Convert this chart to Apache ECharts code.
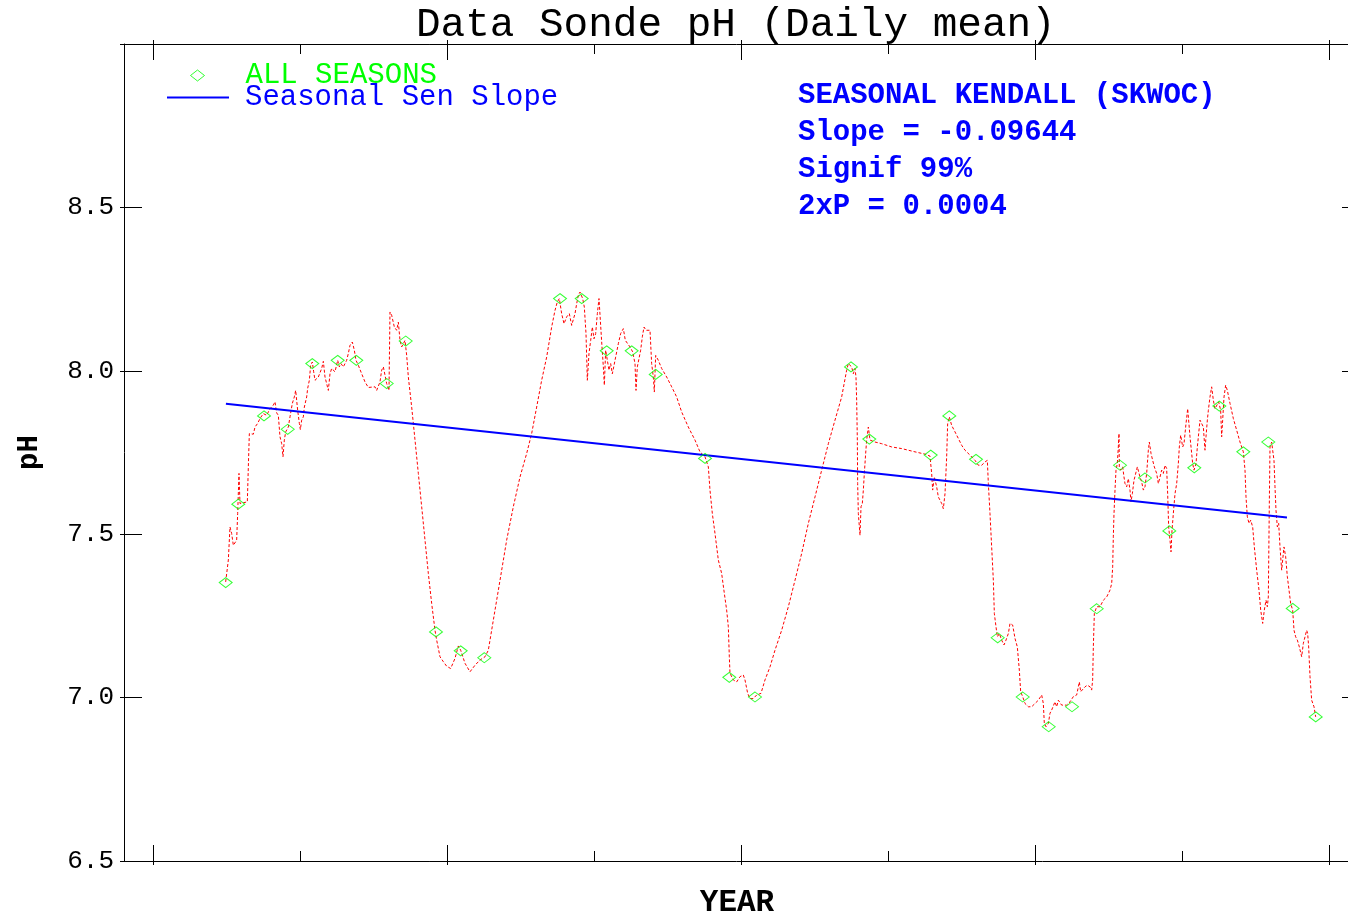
<!DOCTYPE html>
<html>
<head>
<meta charset="utf-8">
<title>Data Sonde pH (Daily mean)</title>
<script src="https://cdn.jsdelivr.net/npm/echarts@6.0.0/dist/echarts.min.js"></script>
<style>
  html, body { margin: 0; padding: 0; background: #ffffff; }
  #chart { width: 1348px; height: 917px; }
</style>
</head>
<body>
<div id="chart"></div>
<script>
// Time is in years from the first major tick; pH is the daily mean value.
const dayT = [
  0.2472,0.2563,0.2619,0.2676,0.2733,0.2789,0.2846,0.2880,0.2925,0.2959,
  0.3016,0.3209,0.3243,0.3277,0.3322,0.3413,0.3470,0.3560,0.3640,0.3753,
  0.3866,0.3980,0.4093,0.4150,0.4207,0.4263,0.4320,0.4377,0.4422,0.4467,
  0.4513,0.4603,0.4660,0.4739,0.4807,0.4853,0.4921,0.4978,0.5012,0.5057,
  0.5114,0.5148,0.5227,0.5261,0.5318,0.5363,0.5420,0.5465,0.5511,0.5624,
  0.5737,0.5794,0.5851,0.5964,0.6021,0.6077,0.6191,0.6282,0.6338,0.6395,
  0.6474,0.6587,0.6644,0.6701,0.6780,0.6848,0.6905,0.6984,0.7098,0.7211,
  0.7324,0.7551,0.7608,0.7721,0.7778,0.7835,0.7891,0.7948,0.8027,0.8061,
  0.8118,0.8209,0.8288,0.8345,0.8402,0.8458,0.8572,0.8629,0.8685,0.8799,
  0.8912,0.9025,0.9139,0.9252,0.9365,0.9479,0.9592,0.9649,0.9762,
  0.9875,0.9989,1.0125,1.0272,1.0386,1.0465,1.0612,1.0782,1.0952,1.1123,
  1.1293,1.1406,1.1576,1.1803,1.2030,1.2256,1.2483,1.2710,1.2880,1.3050,
  1.3220,1.3390,1.3560,1.3674,1.3753,1.3821,1.3900,1.3980,1.4070,1.4161,
  1.4240,1.4354,1.4410,1.4467,1.4524,1.4615,1.4671,1.4728,1.4773,1.4830,
  1.4887,1.4944,1.5000,1.5057,1.5114,1.5170,1.5227,1.5272,1.5318,1.5352,
  1.5397,1.5454,1.5510,1.5567,1.5624,1.5737,1.5828,1.5907,1.5998,1.6066,
  1.6225,1.6315,1.6395,1.6429,1.6474,1.6587,1.6644,1.6701,1.6769,1.6905,
  1.6961,1.7018,1.7052,1.7098,1.7188,1.7302,1.7472,1.7642,1.7812,
  1.7982,1.8208,1.8435,1.8605,1.8775,1.8889,1.8945,1.9025,1.9116,1.9229,
  1.9342,1.9433,1.9512,1.9569,1.9603,1.9626,1.9739,1.9853,1.9966,2.0079,
  2.0136,2.0227,2.0306,2.0419,2.0533,2.0680,2.0816,2.0986,2.1156,2.1383,
  2.1610,2.1837,2.2063,2.2290,2.2517,2.2744,2.2971,2.3197,2.3424,2.3594,
  2.3651,2.3764,2.3821,2.3877,2.3911,2.3934,2.3957,2.3968,2.3991,2.4048,
  2.4082,2.4127,2.4161,2.4195,2.4240,2.4274,2.4331,2.4388,2.4558,2.4785,
  2.5125,2.5465,2.5918,
  2.6258,2.6428,2.6485,2.6519,2.6576,2.6655,2.6712,2.6825,2.6882,2.6939,
  2.6995,2.7029,2.7086,2.7165,2.7279,2.7392,2.7506,2.7619,2.7789,2.7959,
  2.8072,2.8186,2.8299,2.8379,2.8413,2.8469,2.8526,2.8583,2.8617,2.8673,
  2.8719,2.8787,2.8866,2.8945,2.9014,2.9093,2.9150,2.9240,2.9320,2.9399,
  2.9467,2.9512,2.9580,2.9660,2.9773,2.9887,3.0000,3.0113,3.0227,3.0283,
  3.0317,3.0374,3.0454,3.0510,3.0567,3.0680,3.0737,3.0794,3.0850,3.0907,
  3.1077,3.1190,3.1304,3.1417,3.1474,3.1508,3.1553,3.1621,3.1701,3.1780,
  3.1871,3.1927,3.1961,3.1984,3.2018,3.2097,3.2211,3.2324,3.2438,3.2551,
  3.2608,3.2642,3.2664,3.2687,3.2721,3.2755,3.2800,3.2834,3.2857,
  3.2868,3.2914,3.2982,3.3027,3.3061,3.3118,3.3175,3.3231,3.3265,3.3311,
  3.3367,3.3435,3.3481,3.3515,3.3571,3.3628,3.3685,3.3741,3.3798,3.3855,
  3.3889,3.3946,3.4002,3.4059,3.4138,3.4195,3.4252,3.4308,3.4365,3.4422,
  3.4478,3.4512,3.4546,3.4592,3.4626,3.4660,3.4705,3.4762,3.4819,3.4875,
  3.4909,3.4955,3.5023,3.5068,3.5136,3.5193,3.5238,3.5272,3.5329,3.5363,
  3.5408,3.5476,3.5522,3.5567,3.5612,3.5669,3.5726,3.5782,3.5816,3.5862,
  3.5896,3.5952,3.6009,3.6066,3.6122,3.6179,3.6247,3.6315,3.6349,3.6383,
  3.6429,3.6485,3.6542,3.6633,3.6746,3.6860,3.6973,3.7086,3.7143,3.7177,
  3.7222,3.7279,3.7336,3.7404,3.7460,3.7540,3.7619,3.7676,3.7744,3.7800,
  3.7857,3.7902,3.7936,3.7970,3.7993,3.8050,3.8084,3.8129,3.8163,3.8197,
  3.8243,3.8288,3.8333,3.8390,3.8424,3.8469,3.8526,3.8583,3.8640,3.8696,
  3.8764,3.8810,3.8866,3.8923,3.8991,3.9070,3.9127,3.9184,3.9240,3.9274,
  3.9308,3.9354,3.9410,3.9490,3.9546
];

const dailyPH = [
  7.354,7.421,7.522,7.502,7.466,7.472,7.482,7.563,7.686,7.594,
  7.599,7.599,7.706,7.808,7.813,7.806,7.828,7.839,7.854,7.869,
  7.864,7.884,7.895,7.905,7.871,7.864,7.798,7.777,7.737,7.788,
  7.813,7.828,7.859,7.900,7.920,7.940,7.879,7.839,7.820,7.849,
  7.859,7.889,7.920,7.946,7.971,8.017,8.027,7.997,7.971,7.981,
  8.007,8.029,7.981,7.940,7.991,8.007,7.997,8.032,8.012,8.022,
  8.012,8.032,8.053,8.078,8.088,8.063,8.032,8.017,7.991,7.966,
  7.949,7.951,7.940,7.966,8.002,8.012,8.007,7.961,7.940,8.180,
  8.170,8.134,8.124,8.149,8.093,8.073,8.093,8.047,7.981,7.889,
  7.788,7.686,7.584,7.482,7.380,7.288,7.206,7.176,7.125,
  7.110,7.096,7.089,7.120,7.158,7.145,7.105,7.079,7.099,7.115,
  7.125,7.145,7.237,7.359,7.482,7.584,7.675,7.747,7.808,7.889,
  7.971,8.042,8.134,8.185,8.211,8.221,8.175,8.144,8.165,8.175,
  8.139,8.175,8.205,8.231,8.241,8.221,8.195,8.114,7.971,8.053,
  8.093,8.134,8.098,8.114,8.175,8.221,8.216,8.073,8.012,7.956,
  8.063,8.032,8.002,8.022,7.991,8.042,8.083,8.114,8.129,8.093,
  8.073,8.058,8.022,7.940,8.012,8.063,8.104,8.134,8.124,8.124,
  8.022,7.981,7.935,8.047,8.032,8.007,7.981,7.951,7.920,
  7.874,7.828,7.788,7.752,7.737,7.706,7.635,7.563,7.502,7.421,
  7.380,7.319,7.268,7.217,7.125,7.074,7.054,7.048,7.064,7.069,
  7.054,7.013,6.997,6.997,7.008,7.013,7.054,7.094,7.145,7.206,
  7.278,7.359,7.441,7.533,7.614,7.696,7.777,7.849,7.920,8.002,
  8.022,8.012,7.991,8.007,7.981,7.910,7.788,7.655,7.563,7.497,
  7.584,7.594,7.635,7.686,7.747,7.788,7.828,7.788,7.782,7.777,
  7.767,7.762,7.752,
  7.745,7.739,7.686,7.635,7.675,7.645,7.614,7.594,7.578,7.624,
  7.736,7.838,7.859,7.833,7.813,7.793,7.772,7.757,7.742,7.726,
  7.711,7.711,7.721,7.726,7.655,7.563,7.461,7.359,7.257,7.217,
  7.186,7.196,7.176,7.161,7.176,7.196,7.227,7.222,7.181,7.155,
  7.084,7.018,7.003,6.982,6.972,6.972,6.982,6.992,7.008,6.982,
  6.921,6.911,6.921,6.952,6.962,6.987,6.972,6.992,6.997,6.977,
  6.977,6.987,7.003,7.008,7.033,7.048,7.018,7.023,7.033,7.038,
  7.033,7.023,7.054,7.155,7.257,7.278,7.278,7.298,7.308,7.329,
  7.349,7.400,7.492,7.563,7.635,7.696,7.716,7.767,7.808,
  7.706,7.696,7.706,7.675,7.655,7.645,7.670,7.635,7.599,7.624,
  7.665,7.665,7.706,7.711,7.675,7.660,7.635,7.645,7.686,7.757,
  7.782,7.747,7.726,7.706,7.686,7.655,7.675,7.696,7.686,7.711,
  7.701,7.624,7.522,7.482,7.446,7.512,7.563,7.624,7.655,7.716,
  7.767,7.803,7.767,7.777,7.838,7.884,7.879,7.798,7.747,7.716,
  7.696,7.716,7.767,7.808,7.849,7.849,7.828,7.757,7.798,7.849,
  7.879,7.920,7.951,7.910,7.884,7.889,7.905,7.879,7.798,7.849,
  7.920,7.956,7.940,7.900,7.854,7.818,7.782,7.752,7.696,7.614,
  7.553,7.533,7.543,7.522,7.461,7.390,7.329,7.268,7.227,7.268,
  7.298,7.278,7.308,7.594,7.767,7.782,7.757,7.726,7.645,7.573,
  7.522,7.533,7.461,7.390,7.395,7.461,7.431,7.370,7.329,7.288,
  7.268,7.206,7.186,7.176,7.155,7.125,7.166,7.186,7.206,7.196,
  7.155,7.064,6.992,6.972,6.941
];

// Seasonal sample points (ALL SEASONS)
const seasonT = [
  0.2473,0.2901,0.3776,0.4582,0.5418,0.6282,0.6915,0.7949,0.8595,0.9626,
  1.0466,1.1269,1.3844,1.4582,1.5432,1.6282,1.7099,1.8776,1.9602,2.0476,
  2.3741,2.4364,2.6452,2.7085,2.7993,2.8731,2.9582,3.0466,3.1259,3.2099,
  3.2891,3.3741,3.4568,3.5418,3.6269,3.7085,3.7935,3.8765,3.9548
];
const seasonPH = [
  7.352,7.592,7.862,7.821,8.022,8.032,8.032,7.961,8.091,7.201,
  7.143,7.122,8.221,8.221,8.061,8.061,7.989,7.732,7.062,7.002,
  8.012,7.791,7.742,7.862,7.729,7.183,7.002,6.911,6.972,7.272,
  7.711,7.672,7.510,7.703,7.892,7.752,7.782,7.273,6.941
];

// Seasonal Kendall result
const senSlope = -0.09644;          // pH units per year
const senRangeT = [0.248, 3.857];   // span of the fitted line
const senMidT = 2.0525, senMidPH = 7.725;
const statLines = ['SEASONAL KENDALL (SKWOC)', 'Slope = -0.09644', 'Signif 99%', '2xP = 0.0004'];

// Axis ticks
const majorTicks = [0, 1, 2, 3, 4];
const minorTicks = [0.5, 1.5, 2.5, 3.5];
const yLabelValues = [6.5, 7.0, 7.5, 8.0, 8.5];

const X_MIN = -0.0986, X_MAX = 4.0714;
const Y_MIN = 6.5, Y_MAX = 9.0;
const MONO = "'Liberation Mono', 'DejaVu Sans Mono', monospace";

const dailySeries = dayT.map((t, i) => [t, dailyPH[i]]);
const seasonSeries = seasonT.map((t, i) => [t, seasonPH[i]]);
const senSeries = senRangeT.map(t => [t, senMidPH + senSlope * (t - senMidT)]);

function xAx(position, opts) {
  return Object.assign({
    type: 'value', position, min: X_MIN, max: X_MAX,
    axisLine: { show: false, onZero: false, lineStyle: { color: '#000', width: 1 } },
    axisLabel: { show: false },
    splitLine: { show: false }
  }, opts);
}
function yAx(position, opts) {
  return Object.assign({
    type: 'value', position, min: Y_MIN, max: Y_MAX, interval: 0.5,
    axisLine: { show: false, onZero: false, lineStyle: { color: '#000', width: 1 } },
    axisLabel: { show: false },
    splitLine: { show: false }
  }, opts);
}
const tickLine = { color: '#000', width: 1 };

const chart = echarts.init(document.getElementById('chart'), null, { renderer: 'canvas' });
chart.setOption({
  animation: false,
  backgroundColor: '#ffffff',
  title: [
    {
      text: 'Data Sonde pH (Daily mean)',
      left: 416, top: 5, padding: 0,
      textStyle: { fontFamily: MONO, fontSize: 41, fontWeight: 'normal', color: '#000' }
    },
    {
      text: statLines.join('\n'),
      left: 798, top: 77, padding: 0,
      textStyle: { fontFamily: MONO, fontSize: 29, fontWeight: 'bold', color: '#0000ff', lineHeight: 37 }
    }
  ],
  legend: [
    {
      data: [{ name: 'ALL SEASONS', icon: 'diamond' }],
      left: 190, top: 61, padding: 0, orient: 'vertical',
      itemWidth: 14, itemHeight: 11, selectedMode: false,
      itemStyle: { color: 'rgba(0,0,0,0)', borderColor: '#00ff00', borderWidth: 1 },
      textStyle: { fontFamily: MONO, fontSize: 29, color: '#00ff00', padding: [0, 0, 0, 36] }
    },
    {
      data: [{ name: 'Seasonal Sen Slope', icon: 'rect' }],
      left: 167, top: 83, padding: 0, orient: 'vertical',
      itemWidth: 62, itemHeight: 2, selectedMode: false,
      itemStyle: { color: '#0000ff', borderWidth: 0 },
      textStyle: { fontFamily: MONO, fontSize: 29, color: '#0000ff', padding: [0, 0, 0, 11] }
    }
  ],
  grid: { left: 124, right: -2, top: 44, bottom: 56, containLabel: false, outerBoundsMode: 'none' },
  xAxis: [
    xAx('bottom', {
      axisLine: { show: true, onZero: false, lineStyle: { color: '#000', width: 1 } },
      axisTick: { show: true, inside: true, length: 16, customValues: majorTicks, lineStyle: tickLine },
      name: 'YEAR', nameLocation: 'middle', nameGap: 27,
      nameTextStyle: { fontFamily: MONO, fontSize: 31, fontWeight: 'bold', color: '#000' }
    }),
    xAx('bottom', { axisTick: { show: true, inside: false, length: 4, customValues: majorTicks, lineStyle: tickLine } }),
    xAx('bottom', { axisTick: { show: true, inside: true, length: 10, customValues: minorTicks, lineStyle: tickLine } }),
    xAx('top', {
      axisLine: { show: true, onZero: false, lineStyle: { color: '#000', width: 1 } },
      axisTick: { show: true, inside: true, length: 16, customValues: majorTicks, lineStyle: tickLine }
    }),
    xAx('top', { axisTick: { show: true, inside: false, length: 4, customValues: majorTicks, lineStyle: tickLine } }),
    xAx('top', { axisTick: { show: true, inside: true, length: 10, customValues: minorTicks, lineStyle: tickLine } })
  ],
  yAxis: [
    yAx('left', {
      axisLine: { show: true, onZero: false, lineStyle: { color: '#000', width: 1 } },
      axisTick: { show: true, inside: true, length: 18, lineStyle: tickLine },
      axisLabel: {
        show: true, margin: 10, customValues: yLabelValues,
        fontFamily: MONO, fontSize: 26, color: '#000',
        formatter: v => v.toFixed(1)
      },
      name: 'pH', nameLocation: 'middle', nameRotate: 90, nameGap: 80,
      nameTextStyle: { fontFamily: MONO, fontSize: 29, fontWeight: 'bold', color: '#000' }
    }),
    yAx('left', { axisTick: { show: true, inside: false, length: 4, lineStyle: tickLine } }),
    yAx('right', {
      axisLine: { show: true, onZero: false, lineStyle: { color: '#000', width: 1 } },
      axisTick: { show: true, inside: true, length: 8, lineStyle: tickLine },
      minorTick: { show: true, splitNumber: 2, length: 2, lineStyle: tickLine }
    })
  ],
  series: [
    {
      name: 'Daily mean', type: 'line', xAxisIndex: 0, yAxisIndex: 0,
      data: dailySeries, symbol: 'none', showSymbol: false, z: 2,
      lineStyle: { color: '#ff0000', width: 1, type: [3, 2] }
    },
    {
      name: 'Seasonal Sen Slope', type: 'line', xAxisIndex: 0, yAxisIndex: 0,
      data: senSeries, symbol: 'none', showSymbol: false, z: 3,
      lineStyle: { color: '#0000ff', width: 2 }, itemStyle: { color: '#0000ff' }
    },
    {
      name: 'ALL SEASONS', type: 'scatter', xAxisIndex: 0, yAxisIndex: 0,
      data: seasonSeries, symbol: 'diamond', symbolSize: [13, 10], z: 4,
      itemStyle: { color: 'rgba(0,0,0,0)', borderColor: '#00ff00', borderWidth: 1 }
    }
  ]
});
</script>
</body>
</html>
